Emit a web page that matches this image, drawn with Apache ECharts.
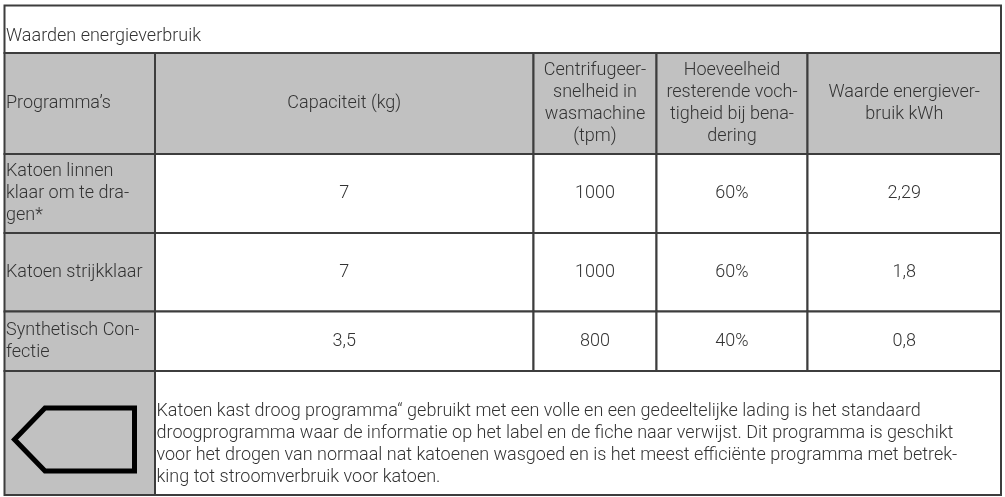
<!DOCTYPE html>
<html>
<head>
<meta charset="utf-8">
<script src="https://cdn.jsdelivr.net/npm/echarts@6.0.0/dist/echarts.min.js"></script>
<style>
    html, body { margin: 0; padding: 0; background: #fff; }
    #main { width: 1005px; height: 497px; }
</style>
</head>
<body>
<div id="main"></div>
<script type="text/javascript">
// table content
var title = 'Waarden energieverbruik';
var headers = [
    'Programma’s',
    'Capaciteit (kg)',
    'Centrifugeer-\nsnelheid in\nwasmachine\n(tpm)',
    'Hoeveelheid\nresterende voch-\ntigheid bij bena-\ndering',
    'Waarde energiever-\nbruik kWh'
];
var programmes = ['Katoen linnen\nklaar om te dra-\ngen*', 'Katoen strijkklaar', 'Synthetisch Con-\nfectie'];
var capacity = [7, 7, 3.5];
var spinSpeed = [1000, 1000, 800];
var moisture = [60, 60, 40];
var energy = [2.29, 1.8, 0.8];
var footnote = 'Katoen kast droog programma“ gebruikt met een volle en een gedeeltelijke lading is het standaard\n' +
    'droogprogramma waar de informatie op het label en de fiche naar verwijst. Dit programma is geschikt\n' +
    'voor het drogen van normaal nat katoenen wasgoed en is het meest efficiënte programma met betrek-\n' +
    'king tot stroomverbruik voor katoen.';

// layout (pixels inside the grid)
var colEdges = [4.5, 155, 533.5, 656.5, 807.5, 1001];
var rowEdges = [5.5, 53, 154, 233, 311.5, 371, 495];
var GREY = '#c1c1c1';
var LINE = '#3d3d3d';
var TEXT = '#333';

function nl(v) { return String(v).replace('.', ','); }

var cells = [];
function addCell(c0, c1, r0, r1, text, fill, align, dy) {
    cells.push({ c0: c0, c1: c1, r0: r0, r1: r1, text: text, fill: fill, align: align || 'center', dy: dy || 0 });
}

addCell(0, 5, 0, 1, title, '#fff', 'left', 7);
headers.forEach(function (h, i) {
    addCell(i, i + 1, 1, 2, h, GREY, i === 0 ? 'left' : 'center', 0);
});
programmes.forEach(function (p, r) {
    var row = [nl(capacity[r]), nl(spinSpeed[r]), moisture[r] + '%', nl(energy[r])];
    addCell(0, 1, r + 2, r + 3, p, GREY, 'left', 0);
    row.forEach(function (v, i) {
        addCell(i + 1, i + 2, r + 2, r + 3, v, '#fff', 'center', 0);
    });
});
addCell(0, 1, 5, 6, '', GREY, 'left', 0);
addCell(1, 5, 5, 6, footnote, '#fff', 'left', 11);

var cellData = cells.map(function (c) {
    return [colEdges[c.c0], colEdges[c.c1], rowEdges[c.r0], rowEdges[c.r1]];
});

var myChart = echarts.init(document.getElementById('main'));

function renderCell(params, api) {
    var c = cells[params.dataIndex];
    var p0 = api.coord([api.value(0), api.value(2)]);
    var p1 = api.coord([api.value(1), api.value(3)]);
    var x0 = p0[0], y0 = p0[1], w = p1[0] - p0[0], h = p1[1] - p0[1];
    var children = [{
        type: 'rect',
        shape: { x: x0, y: y0, width: w, height: h },
        style: { fill: c.fill, stroke: LINE, lineWidth: 2 }
    }];
    if (c.text) {
        children.push({
            type: 'text',
            z2: 10,
            style: {
                text: c.text,
                x: c.align === 'left' ? x0 + 1.5 : x0 + w / 2,
                y: y0 + h / 2 + c.dy,
                align: c.align,
                verticalAlign: 'middle',
                fill: TEXT,
                fontFamily: 'Roboto, "Liberation Sans", sans-serif',
                fontWeight: 300,
                fontSize: 18,
                lineHeight: 22
            }
        });
    }
    // label-arrow symbol in the footer's first cell
    if (c.r0 === 5 && c.c0 === 0) {
        children.push({
            type: 'polygon',
            z2: 10,
            shape: {
                points: [
                    [x0 + 40.5, y0 + 37], [x0 + 130, y0 + 37], [x0 + 130, y0 + 100],
                    [x0 + 40.5, y0 + 100], [x0 + 10, y0 + 68.5]
                ]
            },
            style: { fill: 'none', stroke: '#000', lineWidth: 5, lineJoin: 'miter' }
        });
    }
    return { type: 'group', children: children };
}

var option = {
    animation: false,
    grid: { left: 0, right: 0, top: 0, bottom: 0 },
    xAxis: { type: 'value', min: 0, max: 1005, show: false },
    yAxis: { type: 'value', min: 0, max: 497, inverse: true, show: false },
    series: [{
        type: 'custom',
        renderItem: renderCell,
        encode: { x: [0, 1], y: [2, 3] },
        clip: false,
        data: cellData
    }]
};
myChart.setOption(option);
</script>
</body>
</html>
